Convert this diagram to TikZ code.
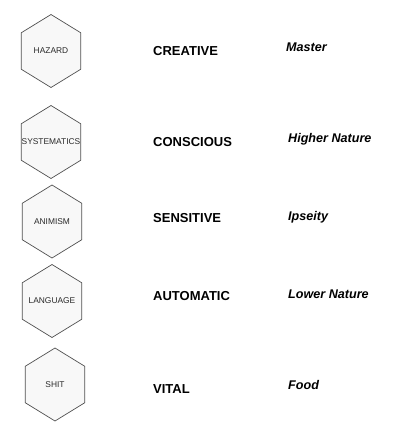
\documentclass[tikz,border=0pt]{standalone}
\usepackage{fontspec}
\setmainfont{Liberation Sans}
\usetikzlibrary{shapes.geometric}
\definecolor{hxEdge}{HTML}{505050}
\definecolor{hxFill}{HTML}{F8F8F8}
\definecolor{hxInk}{HTML}{2A2A2A}

\begin{document}
\begin{tikzpicture}[
    x=1pt, y=-1pt,
    hexa/.style={regular polygon, regular polygon sides=6, shape border rotate=30, xscale=0.94,
                 draw=hxEdge, fill=hxFill, line width=0.7pt, minimum size=73pt, inner sep=0pt},
    hexname/.style={font=\fontsize{8.4}{10}\selectfont, text=hxInk, inner sep=0pt},
    plane/.style={anchor=base west, inner sep=0pt, font=\fontsize{13}{15}\selectfont\bfseries},
    meaning/.style={anchor=base west, inner sep=0pt, font=\fontsize{12.6}{15}\selectfont\bfseries\itshape},
]
\useasboundingbox (0,0) rectangle (411,440);

% ---- Left: hexagons ----
\node[hexa] (hHaz) at (51, 51)    {};
\node[hexa] (hSys) at (51, 142)   {};
\node[hexa] (hAni) at (52, 221.5) {};
\node[hexa] (hLan) at (52, 301)   {};
\node[hexa] (hShi) at (55, 384.5) {};

\node[hexname] at (hHaz.center) {HAZARD};
\node[hexname] at (hSys.center) {SYSTEMATICS};
\node[hexname] at (hAni.center) {ANIMISM};
\node[hexname] at (hLan.center) {LANGUAGE};
\node[hexname] at (hShi.center) {SHIT};

% ---- Middle: planes ----
\node[plane] (pCre) at (153, 55.5) {CREATIVE};
\node[plane] (pCon) at (153, 146.5) {CONSCIOUS};
\node[plane] (pSen) at (153, 222.5) {SENSITIVE};
\node[plane] (pAut) at (153, 300) {AUTOMATIC};
\node[plane] (pVit) at (153, 393) {VITAL};

% ---- Right: meanings ----
\node[meaning] (mMas) at (286, 51.5) {Master};
\node[meaning] (mHig) at (288, 142.5) {Higher Nature};
\node[meaning] (mIps) at (288, 220.5) {Ipseity};
\node[meaning] (mLow) at (288, 298) {Lower Nature};
\node[meaning] (mFoo) at (288, 389.5) {Food};

\end{tikzpicture}
\end{document}
